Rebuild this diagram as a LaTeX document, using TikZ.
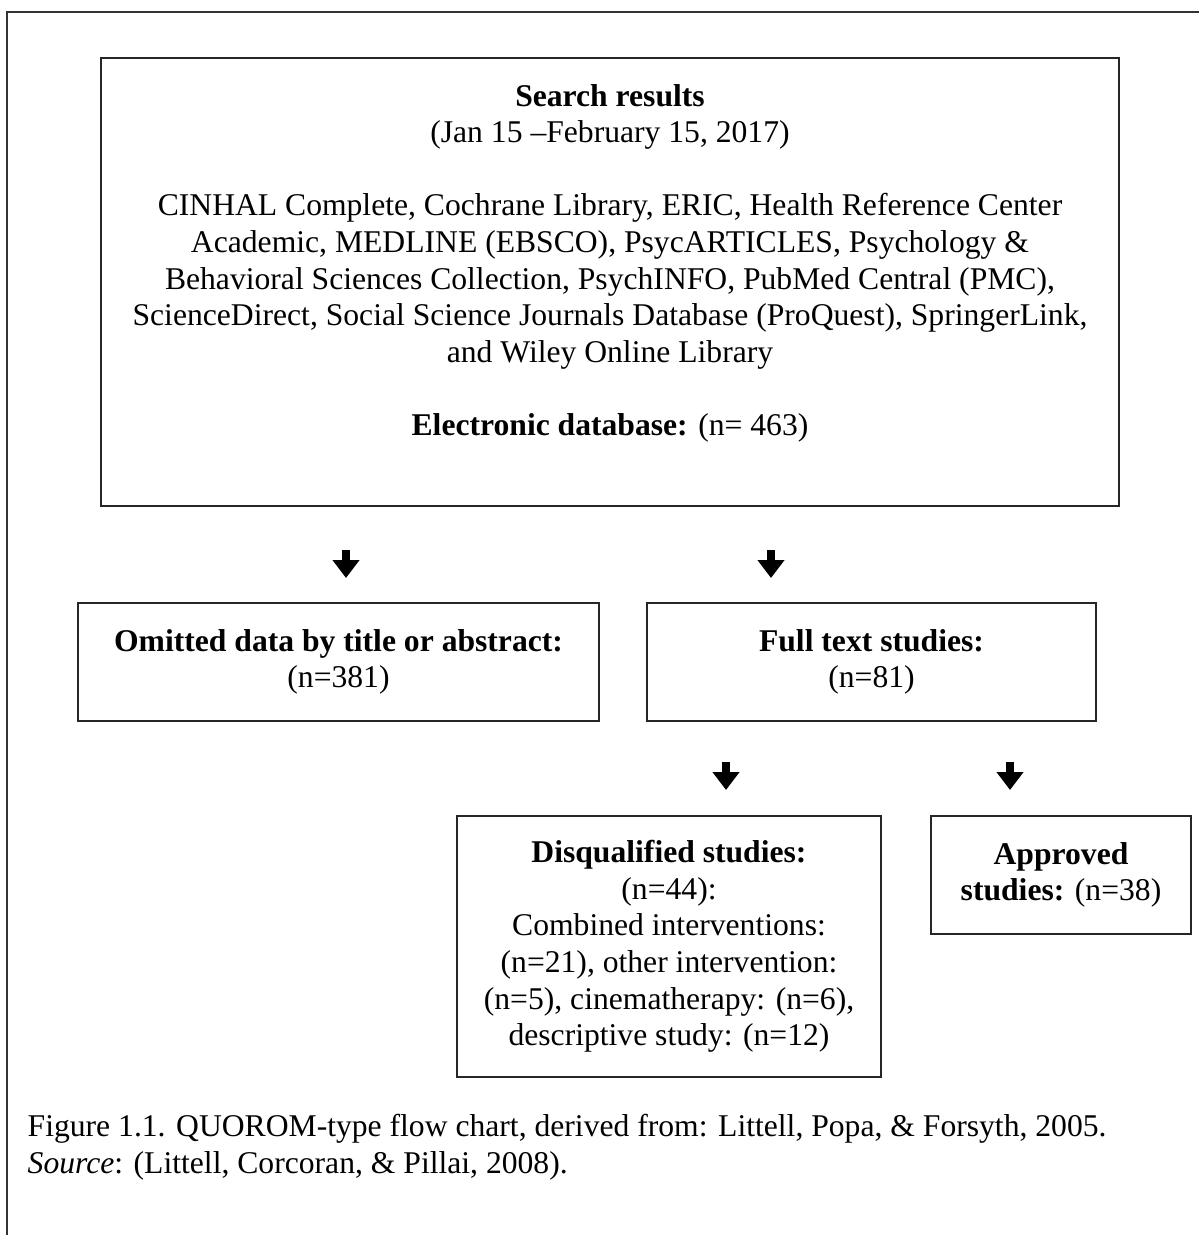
\documentclass[tikz,border=0pt]{standalone}
\usepackage{fontspec}
\setmainfont{Liberation Serif}
\usetikzlibrary{arrows.meta,positioning}

\begin{document}
\begin{tikzpicture}[x=0.1mm, y=-0.1mm, color=black,
		box/.style={draw=black!85, line width=0.75pt, inner sep=0pt, align=center},
		downarrow/.style={line width=2.2pt, -{Triangle[width=2.6mm,length=1.8mm]}}]
		\useasboundingbox (0,0) rectangle (1199,1235);
		\draw[line width=0.8pt, black!80] (7,1235) -- (7,12) -- (1199,12);
		
		\begin{scope}[font=\fontsize{9}{10.4}\selectfont]
			\node[box, minimum width=101.8mm, minimum height=44.8mm] (search) at (610,282) {};
			\node[below=2.7mm of search.north, inner sep=0pt, align=center] (searchtxt) {\textbf{Search results}\\
				(Jan 15 --February 15, 2017)\\[10.4pt]
				CINHAL Complete, Cochrane Library, ERIC, Health Reference Center\\
				Academic, MEDLINE (EBSCO), PsycARTICLES, Psychology \&\\
				Behavioral Sciences Collection, PsychINFO, PubMed Central (PMC),\\
				ScienceDirect, Social Science Journals Database (ProQuest), SpringerLink,\\
				and Wiley Online Library\\[10.4pt]
				\textbf{Electronic database:} (n= 463)};
			
			\node[box, minimum width=52.1mm, minimum height=11.8mm] (omitted) at (338.5,662) {\textbf{Omitted data by title or abstract:}\\(n=381)};
			\node[box, minimum width=44.9mm, minimum height=11.8mm] (fulltext) at (871.5,662) {\textbf{Full text studies:}\\(n=81)};
			\node[box, minimum width=42.4mm, minimum height=26.1mm] (disq) at (669,946.5) {\textbf{Disqualified studies:}\\(n=44):\\Combined interventions:\\(n=21), other intervention:\\(n=5), cinematherapy: (n=6),\\descriptive study: (n=12)};
			\node[box, minimum width=26mm, minimum height=11.8mm] (approved) at (1061,875) {\textbf{Approved}\\\textbf{studies:} (n=38)};
			
			\coordinate (a1) at (346,550);  \coordinate (b1) at (346,578);
			\coordinate (a2) at (771,550);  \coordinate (b2) at (771,578);
			\coordinate (a3) at (726,762);  \coordinate (b3) at (726,790);
			\coordinate (a4) at (1010,762); \coordinate (b4) at (1010,790);
			\draw[downarrow] (a1) -- (b1);
			\draw[downarrow] (a2) -- (b2);
			\draw[downarrow] (a3) -- (b3);
			\draw[downarrow] (a4) -- (b4);
			
			\node[anchor=north west, inner sep=0pt, align=left] (caption) at (27,1114) {Figure 1.1. QUOROM-type flow chart, derived from: Littell, Popa, \& Forsyth, 2005.\\
				\textit{Source}: (Littell, Corcoran, \& Pillai, 2008).};
		\end{scope}
	\end{tikzpicture}
\end{document}
